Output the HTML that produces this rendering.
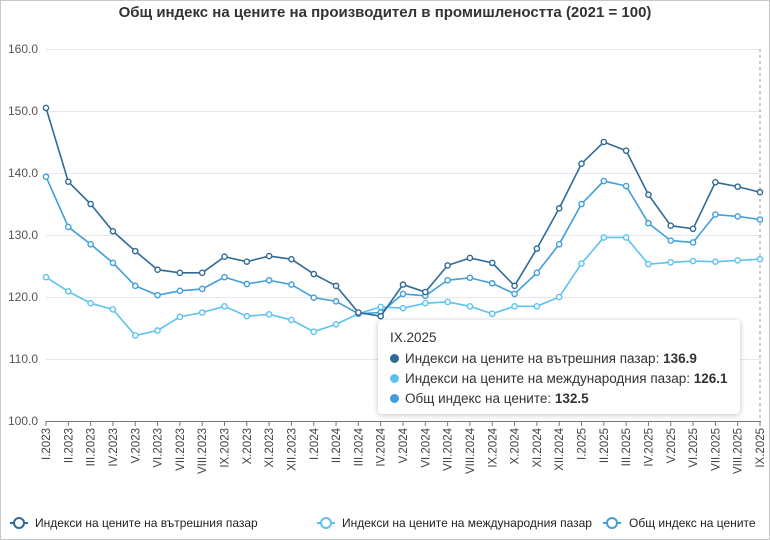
<!DOCTYPE html>
<html><head><meta charset="utf-8"><style>
html,body{margin:0;padding:0;background:#fff}
body{width:770px;height:540px;position:relative;overflow:hidden;font-family:"Liberation Sans","DejaVu Sans",sans-serif}
#frame{position:absolute;left:0;top:0;width:768px;height:538px;border:1px solid #c8c8c8}
.tt{position:absolute;left:378px;top:320px;width:362px;height:94px;background:#fff;border-radius:4px;box-shadow:0 1px 6px rgba(0,0,0,.25);font-size:13.5px;color:#333}
.tt div{position:absolute;left:12px;white-space:nowrap}
.dot{display:inline-block;width:9px;height:9px;border-radius:50%;margin-right:6px;vertical-align:0}
</style></head><body>
<div id="frame"></div>
<svg id="s" width="770" height="540" style="position:absolute;left:0;top:0" font-family="Liberation Sans, DejaVu Sans, sans-serif">
<text x="385" y="17" text-anchor="middle" font-size="15" font-weight="bold" fill="#333">Общ индекс на цените на производител в промишлеността (2021 = 100)</text>
<g stroke="#e6e6f0" stroke-width="1">
<line x1="46" x2="761" y1="49.5" y2="49.5"/><line x1="46" x2="761" y1="111.5" y2="111.5"/><line x1="46" x2="761" y1="173.5" y2="173.5"/><line x1="46" x2="761" y1="235.5" y2="235.5"/><line x1="46" x2="761" y1="297.5" y2="297.5"/><line x1="46" x2="761" y1="359.5" y2="359.5"/>
</g>
<line x1="46" x2="761" y1="421.5" y2="421.5" stroke="#777"/>
<line x1="760" x2="760" y1="49" y2="421" stroke="#999" stroke-dasharray="3,3"/>
<g font-size="12" fill="#555" text-anchor="end">
<text x="38" y="53">160.0</text><text x="38" y="115">150.0</text><text x="38" y="177">140.0</text><text x="38" y="239">130.0</text><text x="38" y="301">120.0</text><text x="38" y="363">110.0</text><text x="38" y="425">100.0</text>
</g>
<g id="ticks" stroke="#777"></g>
<g id="lab" font-size="11.5" fill="#444"></g>
<g id="series"></g>
<g font-size="12" fill="#222">
<line x1="10" x2="28" y1="523" y2="523" stroke="#2f6a96" stroke-width="2"/><circle cx="19" cy="523" r="5" fill="#fff" stroke="#2f6a96" stroke-width="2"/>
<text x="35" y="527">Индекси на цените на вътрешния пазар</text>
<line x1="317" x2="335" y1="523" y2="523" stroke="#5cc3ee" stroke-width="2"/><circle cx="326" cy="523" r="5" fill="#fff" stroke="#5cc3ee" stroke-width="2"/>
<text x="342" y="527">Индекси на цените на международния пазар</text>
<line x1="603" x2="621" y1="523" y2="523" stroke="#3f9edb" stroke-width="2"/><circle cx="612" cy="523" r="5" fill="#fff" stroke="#3f9edb" stroke-width="2"/>
<text x="629" y="527">Общ индекс на цените</text>
</g>
</svg>
<div class="tt">
<div style="top:10px">IX.2025</div>
<div style="top:31px"><span class="dot" style="background:#2f6a96"></span>Индекси на цените на вътрешния пазар: <b>136.9</b></div>
<div style="top:51px"><span class="dot" style="background:#5cc3ee"></span>Индекси на цените на международния пазар: <b>126.1</b></div>
<div style="top:71px"><span class="dot" style="background:#3f9edb"></span>Общ индекс на цените: <b>132.5</b></div>
</div>
<script>
var labels=["I.2023","II.2023","III.2023","IV.2023","V.2023","VI.2023","VII.2023","VIII.2023","IX.2023","X.2023","XI.2023","XII.2023","I.2024","II.2024","III.2024","IV.2024","V.2024","VI.2024","VII.2024","VIII.2024","IX.2024","X.2024","XI.2024","XII.2024","I.2025","II.2025","III.2025","IV.2025","V.2025","VI.2025","VII.2025","VIII.2025","IX.2025"];
var d=[150.5,138.6,135.0,130.6,127.4,124.4,123.9,123.9,126.5,125.7,126.6,126.1,123.7,121.8,117.5,116.9,122.0,120.8,125.1,126.3,125.5,121.8,127.8,134.3,141.5,145.0,143.6,136.5,131.5,131.0,138.5,137.8,136.9];
var l=[123.2,120.9,119.0,118.0,113.8,114.6,116.8,117.5,118.5,116.9,117.2,116.3,114.4,115.6,117.3,118.4,118.2,119.0,119.2,118.5,117.3,118.5,118.5,120.0,125.4,129.6,129.6,125.3,125.6,125.8,125.7,125.9,126.1];
var m=[139.4,131.3,128.5,125.5,121.8,120.3,121.0,121.3,123.2,122.1,122.7,122.0,119.9,119.3,117.3,117.5,120.5,120.2,122.7,123.1,122.2,120.5,123.9,128.5,135.0,138.7,137.9,131.9,129.1,128.8,133.3,133.0,132.5];
var NS="http://www.w3.org/2000/svg";
function X(i){return 46+i*714/32}function Y(v){return 421-(v-100)*6.2}
function el(n,a,p){var e=document.createElementNS(NS,n);for(var k in a)e.setAttribute(k,a[k]);p.appendChild(e);return e}
var tk=document.getElementById('ticks'),lb=document.getElementById('lab'),se=document.getElementById('series');
labels.forEach(function(t,i){var x=X(i);el('line',{x1:x,x2:x,y1:421,y2:426},tk);var e=el('text',{x:0,y:0,'text-anchor':'end',transform:'translate('+(x+4)+',428) rotate(-90)'},lb);e.textContent=t;});
[[l,'#5cc3ee'],[m,'#3f9edb'],[d,'#2f6a96']].forEach(function(s){var pts=s[0].map(function(v,i){return X(i)+','+Y(v)}).join(' ');el('polyline',{points:pts,fill:'none',stroke:s[1],'stroke-width':1.6},se);s[0].forEach(function(v,i){el('circle',{cx:X(i),cy:Y(v),r:2.6,fill:'#fff',stroke:s[1],'stroke-width':1.4},se)});});
</script>
</body></html>
